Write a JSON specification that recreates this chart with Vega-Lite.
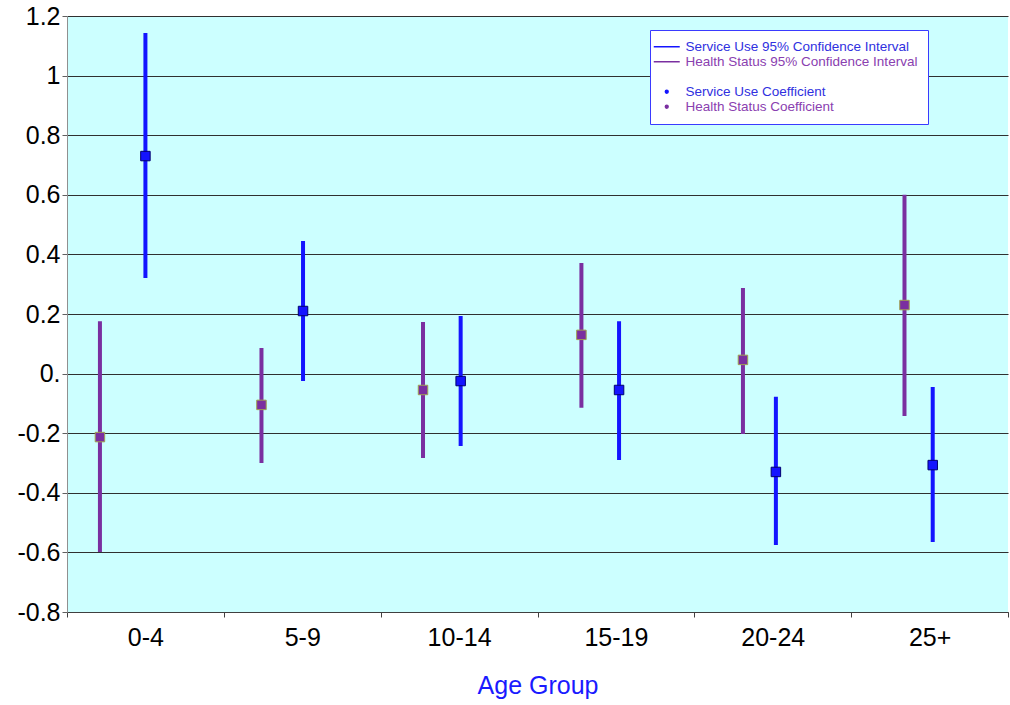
{
  "$schema": "https://vega.github.io/schema/vega-lite/v6.json",
  "width": 941,
  "height": 596,
  "autosize": {"type": "none"},
  "padding": {"left": 67, "top": 16, "right": 2, "bottom": 93},
  "background": "white",
  "config": {
    "view": {"fill": "#CCFFFF", "stroke": null},
    "font": "Liberation Sans"
  },
  "data": {
    "values": [
      {"age": "0-4", "series": "Health Status", "x": 0.21, "coef": -0.213, "lo": -0.599, "hi": 0.176, "ci": "Health Status 95% Confidence Interval", "coef_label": "Health Status Coefficient"},
      {"age": "0-4", "series": "Service Use", "x": 0.5, "coef": 0.73, "lo": 0.321, "hi": 1.143, "ci": "Service Use 95% Confidence Interval", "coef_label": "Service Use Coefficient"},
      {"age": "5-9", "series": "Health Status", "x": 1.24, "coef": -0.105, "lo": -0.30, "hi": 0.086, "ci": "Health Status 95% Confidence Interval", "coef_label": "Health Status Coefficient"},
      {"age": "5-9", "series": "Service Use", "x": 1.505, "coef": 0.21, "lo": -0.025, "hi": 0.445, "ci": "Service Use 95% Confidence Interval", "coef_label": "Service Use Coefficient"},
      {"age": "10-14", "series": "Health Status", "x": 2.27, "coef": -0.055, "lo": -0.283, "hi": 0.173, "ci": "Health Status 95% Confidence Interval", "coef_label": "Health Status Coefficient"},
      {"age": "10-14", "series": "Service Use", "x": 2.51, "coef": -0.025, "lo": -0.243, "hi": 0.193, "ci": "Service Use 95% Confidence Interval", "coef_label": "Service Use Coefficient"},
      {"age": "15-19", "series": "Health Status", "x": 3.28, "coef": 0.13, "lo": -0.115, "hi": 0.371, "ci": "Health Status 95% Confidence Interval", "coef_label": "Health Status Coefficient"},
      {"age": "15-19", "series": "Service Use", "x": 3.52, "coef": -0.055, "lo": -0.29, "hi": 0.176, "ci": "Service Use 95% Confidence Interval", "coef_label": "Service Use Coefficient"},
      {"age": "20-24", "series": "Health Status", "x": 4.31, "coef": 0.046, "lo": -0.203, "hi": 0.287, "ci": "Health Status 95% Confidence Interval", "coef_label": "Health Status Coefficient"},
      {"age": "20-24", "series": "Service Use", "x": 4.52, "coef": -0.33, "lo": -0.575, "hi": -0.078, "ci": "Service Use 95% Confidence Interval", "coef_label": "Service Use Coefficient"},
      {"age": "25+", "series": "Health Status", "x": 5.34, "coef": 0.23, "lo": -0.142, "hi": 0.60, "ci": "Health Status 95% Confidence Interval", "coef_label": "Health Status Coefficient"},
      {"age": "25+", "series": "Service Use", "x": 5.52, "coef": -0.307, "lo": -0.565, "hi": -0.045, "ci": "Service Use 95% Confidence Interval", "coef_label": "Service Use Coefficient"}
    ]
  },
  "encoding": {
    "x": {
      "field": "x", "type": "quantitative",
      "scale": {"domain": [0, 6], "nice": false, "zero": false},
      "axis": {
        "values": [0, 0.5, 1, 1.5, 2, 2.5, 3, 3.5, 4, 4.5, 5, 5.5, 6],
        "labelExpr": "datum.value % 1 == 0.5 ? ['0-4','5-9','10-14','15-19','20-24','25+'][floor(datum.value)] : ''",
        "tickOpacity": {"condition": {"test": "datum.value % 1 == 0.5", "value": 0}, "value": 1},
        "tickSize": 5, "tickColor": "#404040", "domainColor": "#404040",
        "grid": false,
        "labelFontSize": 25, "labelColor": "black", "labelPadding": 8,
        "labelFont": "Liberation Sans",
        "title": "Age Group", "titleFontSize": 25, "titleFontWeight": "normal",
        "titleColor": "#1a1aff", "titlePadding": 23, "titleFont": "Liberation Sans"
      }
    }
  },
  "layer": [
    {
      "mark": {"type": "rule", "strokeWidth": 4},
      "encoding": {
        "y": {
          "field": "lo", "type": "quantitative",
          "scale": {"domain": [-0.8, 1.2], "nice": false, "zero": false},
          "axis": {
            "values": [-0.8, -0.6, -0.4, -0.2, 0, 0.2, 0.4, 0.6, 0.8, 1, 1.2],
            "labelExpr": "datum.value == 0 ? '0.' : replace(format(datum.value, '.1~f'), '\u2212', '-')",
            "title": null,
            "grid": true, "gridColor": "#303030", "gridWidth": 1, "gridOpacity": 1,
            "domainColor": "#909090", "tickColor": "#606060", "tickSize": 5,
            "labelFontSize": 25, "labelColor": "black", "labelPadding": 2,
            "labelFont": "Liberation Sans"
          }
        },
        "y2": {"field": "hi"},
        "color": {
          "field": "ci", "type": "nominal",
          "scale": {
            "domain": ["Service Use 95% Confidence Interval", "Health Status 95% Confidence Interval", " ", "Service Use Coefficient", "Health Status Coefficient"],
            "range": ["#1414ff", "#7a2fa0", "rgba(0,0,0,0)", "#1414ff", "#7a2fa0"]
          },
          "legend": {
            "orient": "none", "legendX": 583, "legendY": 14,
            "title": null,
            "strokeColor": "#3a3aff", "fillColor": "white", "padding": 10,
            "labelFontSize": 13.5, "labelFont": "Liberation Sans", "labelOffset": 12,
            "labelLimit": 400,
            "symbolType": "stroke", "symbolSize": 676, "symbolStrokeWidth": 1.5,
            "rowPadding": 0,
            "encode": {
              "symbols": {
                "update": {
                  "shape": {"signal": "datum.index < 3 ? 'stroke' : 'circle'"},
                  "size": {"signal": "datum.index < 2 ? 676 : (datum.index == 2 ? 0 : 8)"},
                  "stroke": {"signal": "datum.index < 2 ? scale('color', datum.value) : 'transparent'"},
                  "fill": {"signal": "datum.index > 2 ? scale('color', datum.value) : 'transparent'"},
                  "strokeWidth": {"value": 1.5}
                }
              },
              "labels": {
                "update": {
                  "fill": {"signal": "indexof(datum.value, 'Service') >= 0 ? '#3030e0' : '#8a40b0'"},
                  "fontSize": {"signal": "datum.index == 2 ? 14 : 13.5"}
                }
              }
            }
          }
        }
      }
    },
    {
      "mark": {"type": "point", "shape": "square", "filled": true, "size": 90, "strokeWidth": 1, "opacity": 1},
      "encoding": {
        "y": {"field": "coef", "type": "quantitative"},
        "color": {"field": "coef_label", "type": "nominal"},
        "stroke": {
          "field": "series", "type": "nominal",
          "scale": {"domain": ["Service Use", "Health Status"], "range": ["#000070", "#a0a050"]},
          "legend": null
        }
      }
    }
  ]
}
